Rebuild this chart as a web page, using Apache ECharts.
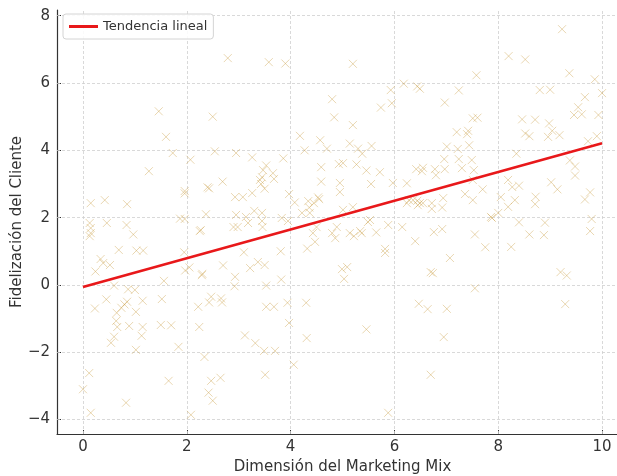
<!DOCTYPE html>
<html>
<head>
<meta charset="utf-8">
<script src="https://cdn.jsdelivr.net/npm/echarts@6/dist/echarts.min.js"></script>
<style>
  html, body { margin: 0; padding: 0; background: #fff; }
  #chart { width: 617px; height: 476px; }
</style>
</head>
<body>
<div id="chart"></div>
<script>
// Observations: marketing-mix dimension (x) vs. customer loyalty (y)
const mixX = [
  0, 0.12, 0.15, 0.83,
  0.13, 0.15, 0.15, 0.13, 0.46, 0.84, 0.97,
  0.15, 0.42, 0.85,
  0.69, 1.03, 1.16,
  0.34, 0.39, 0.52, 0.24,
  0.6, 0.45, 0.23,
  0.87, 1.0,
  0.74, 0.8, 0.85,
  0.65, 0.64, 0.66, 0.6, 0.54,
  1.02, 0.89, 1.15, 1.13, 1.15, 1.02,
  1.27, 1.46, 1.6, 1.73, 2.07, 1.96, 1.96,
  1.87, 1.96,
  1.56, 1.52, 1.5, 1.7, 1.84, 1.65,
  1.95, 1.97, 2.05, 2.3, 2.08, 2.25,
  2.4, 2.43, 2.5, 2.54, 2.69, 2.79, 2.95, 2.93,
  2.37, 2.27, 2.9, 2.95,
  2.7, 2.29, 2.93, 2.92,
  2.47, 2.43, 2.66, 2.68, 2.22, 2.24, 2.34, 2.47, 2.65, 2.42, 2.5,
  3.1, 3.12, 3.32, 3.49, 3.7, 3.51, 3.97, 4.06,
  3.22, 3.37, 3.5, 3.53, 3.82, 3.81,
  3.53, 3.68, 3.94,
  3.26, 3.26, 3.08, 3.41, 3.47, 3.53, 3.5, 3.66, 3.68, 3.45, 3.43,
  3.58, 3.9, 3.86, 3.83, 3.95, 3.97, 4.08,
  3.14, 3.3, 3.45, 3.18, 3.45, 2.98, 3.46,
  4.18, 4.27, 4.57, 4.7, 4.8, 4.84, 4.59, 4.59, 4.53, 4.45, 4.36, 4.93, 5.01, 4.95, 4.95,
  4.22, 4.37, 4.34, 4.55,
  4.3, 4.31, 4.32, 4.47, 4.43, 4.5,
  4.86, 4.8, 4.89,
  4.99, 5.09, 5.03,
  5.2, 5.2, 5.14, 5.3, 5.38, 5.56, 5.27, 5.46, 5.72, 5.55, 5.01, 5.2, 5.14, 5.34, 5.53, 5.74, 5.93, 5.95, 5.97,
  5.22, 5.37, 5.65, 5.88, 5.49, 5.82, 5.82, 5.46, 5.88,
  6.18, 6.44, 6.49, 6.24, 6.28, 6.42, 6.55, 6.53, 6.78, 6.8, 6.96, 6.97, 6.97, 7.01,
  6.44, 6.49, 6.24, 6.36, 6.55, 6.45, 6.72, 6.72, 6.92, 6.94,
  6.15, 6.4, 6.76, 6.92, 6.7, 6.74,
  6.47, 6.64, 7.01, 6.95, 6.7,
  7.2, 7.4, 7.42, 7.51, 7.6, 7.24, 7.58, 7.24, 7.3, 7.49, 7.53, 7.22, 7.44, 7.51, 7.7, 7.51, 7.86, 7.36,
  7.55, 7.75, 7.07, 7.55,
  7.88, 8.0,
  8.2, 8.52, 9.23, 9.37, 9.86, 10.0, 8.8, 9.0, 9.67, 9.54, 9.46, 9.61, 9.93,
  8.46, 8.71, 8.98, 8.52, 8.6, 8.96, 9.04, 9.18, 9.9, 9.73,
  8.35, 9.38, 9.48, 9.48, 8.19, 8.27, 8.4, 9.02, 9.14, 8.05, 8.32, 8.19, 8.72, 8.71, 9.77, 9.67,
  8.4, 8.9, 9.8, 8.6,
  8.25, 8.88, 9.77, 9.2, 9.32, 9.29
];
const loyaltyY = [
  -3.1, -2.62, -3.8, -3.5,
  1.45, 1.54, 1.69, 1.84, 1.84, 1.78, 1.5,
  2.43, 2.52, 2.4,
  1.04, 1.02, 1.02,
  0.77, 0.65, 0.59, 0.4,
  -0.02, -0.43, -0.7,
  -0.13, -0.15,
  -0.68, -0.58, -0.5,
  -0.83, -1.07, -1.25, -1.54, -1.72,
  -0.8, -1.22, -1.25, -1.51, -0.47, -1.93,
  3.38, 5.16, 4.4, 3.92, 3.72, 2.79, 2.72,
  1.97, 1.96,
  0.12, -0.42, -1.19, -1.2, -1.84, -2.85,
  0.97, 0.43, 0.52, 0.33, -3.86, 1.6,
  2.9, 2.87, 5.0, 3.97, 3.07, 6.74, 3.92, 2.61,
  2.1, 1.63, 1.72, 2.08,
  0.58, 0.29, 0.24, -0.04,
  -0.35, -0.52, -0.4, -0.52, -0.65, -1.25, -2.14, -2.85, -2.76, -3.2, -3.44,
  0.97, -1.5, -1.73, -1.96, -1.96, -2.67, -1.13, -2.37,
  0.5, 0.68, 0.59, -0.02, 0.16, 1.0,
  -0.65, -0.65, -0.53,
  3.79, 2.73, 2.61, 3.12, 3.41, 3.55, 2.86, 3.32, 3.15, 3.2, 3.0,
  6.62, 6.58, 3.76, 1.99, 1.9, 2.7, 2.45,
  2.02, 2.2, 2.14, 1.84, 1.9, 1.72, 1.72,
  4.43, 4.0, 4.3, 4.05, 5.52, 4.98, 3.5, 3.07, 2.6, 2.43, 2.3, 3.59, 3.62, 3.03, 2.76,
  2.14, 2.14, 2.49, 2.55,
  -0.53, -1.58, 1.08, 1.28, 1.54, 1.72,
  1.39, 1.54, 1.72,
  0.47, 0.53, 0.18,
  6.57, 4.75, 4.2, 4.05, 3.9, 4.13, 3.58, 3.4, 3.35, 3.0, 2.23, 2.31, 1.54, 1.6, 1.93, 5.27, 5.79, 5.4, 3.03,
  1.45, 1.54, 1.56, 1.78, 1.87, 1.07, 0.95, -1.32, -3.8,
  5.98, 5.9, 5.83, 3.02, 2.52, 3.44, 3.48, 3.38, 3.44, 3.26, 3.74, 3.44, 5.42, 4.11,
  2.5, 2.43, 2.43, 2.52, 2.43, 2.37, 2.43, 2.26, 2.3, 2.58,
  1.72, 1.3, 1.57, 1.66, 0.38, 0.35,
  -0.56, -0.72, -0.71, -1.55, -2.67,
  4.54, 4.48, 4.58, 4.95, 4.97, 5.78, 6.23, 3.74, 3.47, 3.71, 3.41, 4.04, 4.15, 3.12, 2.84, 2.52, 2.02, 2.7,
  1.5, 1.12, 0.8, -0.1,
  1.99, 2.14,
  6.8, 6.7, 7.6, 6.29, 6.11, 5.7, 5.79, 5.8, 5.58, 5.28, 5.05, 5.07, 5.05,
  4.92, 4.91, 4.8, 4.5, 4.42, 4.4, 4.58, 4.45, 4.42, 4.27,
  3.9, 3.7, 3.52, 3.25, 3.12, 2.91, 2.95, 3.05, 2.84, 2.61, 2.52, 2.32, 2.62, 2.4, 2.75, 2.54,
  1.86, 1.85, 1.96, 1.5,
  1.13, 1.48, 1.6, 0.38, 0.28, -0.57
];

// Fitted linear trend, endpoints of the segment
const trendX = [0, 10];
const trendY = [-0.06, 4.21];

// Tick positions
const xTicks = [0, 2, 4, 6, 8, 10];
const yTicks = [-4, -2, 0, 2, 4, 6, 8];

const seriesName = 'Tendencia lineal';
const xTitle = 'Dimensión del Marketing Mix';
const yTitle = 'Fidelización del Cliente';

const points = mixX.map((x, i) => [x, loyaltyY[i]]);
const trend = trendX.map((x, i) => [x, trendY[i]]);

const FONT = 'DejaVu Sans';
const fmt = v => (v < 0 ? '\u2212' + Math.abs(v) : String(v));

const gridLines = xTicks.map(v => ({ xAxis: v })).concat(yTicks.map(v => ({ yAxis: v })));

const chart = echarts.init(document.getElementById('chart'), null, { renderer: 'canvas' });
chart.setOption({
  animation: false,
  backgroundColor: '#ffffff',
  textStyle: { fontFamily: FONT },
  grid: { left: 57, right: -11, top: 10, bottom: 42, containLabel: false, outerBoundsMode: 'none' },
  legend: {
    left: 63, top: 14,
    orient: 'vertical',
    padding: [6, 6, 6, 6],
    itemWidth: 29, itemHeight: 3, itemGap: 4,
    backgroundColor: 'rgba(255,255,255,0.85)',
    borderColor: '#d4d4d4', borderWidth: 1, borderRadius: 3,
    textStyle: { fontFamily: FONT, fontSize: 13, color: '#333' },
    data: [{ name: seriesName, icon: 'rect', itemStyle: { color: '#e8181a' } }]
  },
  xAxis: {
    type: 'value', min: -0.5, max: 10.5,
    name: xTitle, nameLocation: 'middle', nameGap: 26, nameMoveOverlap: false,
    nameTextStyle: { fontFamily: FONT, fontSize: 15, color: '#333' },
    axisLine: { show: true, onZero: false, lineStyle: { color: '#333', width: 1.2 } },
    axisTick: { show: true, inside: true, length: 4, customValues: xTicks, lineStyle: { color: '#333' } },
    axisLabel: { customValues: xTicks, formatter: fmt, fontFamily: FONT, fontSize: 15, color: '#333', margin: 6 },
    splitLine: { show: false }
  },
  yAxis: {
    type: 'value', min: -4.43, max: 8.17,
    name: yTitle, nameLocation: 'middle', nameGap: 32, nameRotate: 90, nameMoveOverlap: false,
    nameTextStyle: { fontFamily: FONT, fontSize: 15, color: '#333' },
    axisLine: { show: true, onZero: false, lineStyle: { color: '#333', width: 1.2 } },
    axisTick: { show: true, inside: true, length: 4, customValues: yTicks, lineStyle: { color: '#333' } },
    axisLabel: { customValues: yTicks, formatter: fmt, fontFamily: FONT, fontSize: 15, color: '#333', margin: 7 },
    splitLine: { show: false }
  },
  series: [
    {
      type: 'scatter',
      z: 2,
      data: points,
      symbol: 'path://M0,0L10,10M10,0L0,10',
      symbolSize: 8,
      itemStyle: { color: 'rgba(0,0,0,0)', borderColor: 'rgba(205,165,80,0.55)', borderWidth: 1 },
      emphasis: { disabled: true },
      silent: true,
      markLine: {
        z: 1,
        silent: true,
        symbol: ['none', 'none'],
        label: { show: false },
        lineStyle: { color: '#cfcfcf', type: [3, 2], width: 0.8 },
        emphasis: { disabled: true },
        data: gridLines
      }
    },
    {
      name: seriesName,
      type: 'line',
      z: 3,
      data: trend,
      symbol: 'none',
      lineStyle: { color: '#e8181a', width: 2.6 },
      itemStyle: { color: '#e8181a' },
      silent: true
    }
  ]
});
</script>
</body>
</html>
